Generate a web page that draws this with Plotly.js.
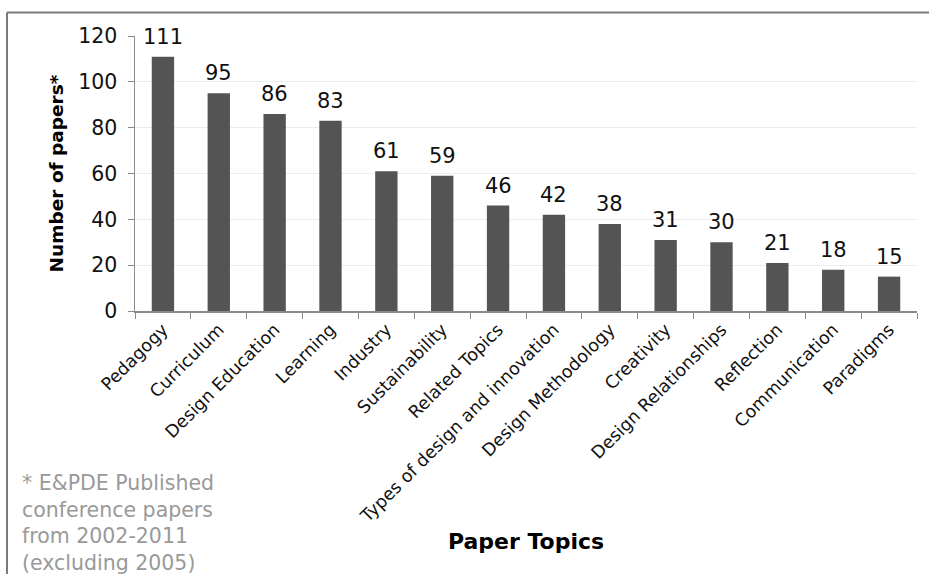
<!DOCTYPE html>
<html>
<head>
<meta charset="utf-8">
<script src="https://cdn.plot.ly/plotly-3.0.1.min.js"></script>
<style>html,body{margin:0;padding:0;background:#fff;}#chart{width:929px;height:574px;}</style>
</head>
<body>
<div id="chart"></div>
<script>
const topics = ["Pedagogy","Curriculum","Design Education","Learning","Industry","Sustainability","Related Topics","Types of design and innovation","Design Methodology","Creativity","Design Relationships","Reflection","Communication","Paradigms"];
const papers = [111,95,86,83,61,59,46,42,38,31,30,21,18,15];
const yTicks = [0,20,40,60,80,100,120];
const yTitle = "Number of papers*";
const xTitle = "Paper Topics";
const footnote = "* E&PDE Published<br>conference papers<br>from 2002-2011<br>(excluding 2005)";

const L = 135, R = 917, T = 36, B = 311, W = 929, H = 574;
const pw = R - L, ph = B - T;
const px = v => (v - L) / pw;
const py = v => (B - v) / ph;

const trace = {
  type: "bar",
  x: topics,
  y: papers,
  marker: {color: "#545454"},
  cliponaxis: false,
  hoverinfo: "x+y"
};

const valueLabels = topics.map((t, i) => ({
  x: t, y: papers[i], xref: "x", yref: "y",
  text: String(papers[i]),
  showarrow: false, yanchor: "bottom", yshift: 6,
  font: {family: "DejaVu Sans", size: 21, color: "#111"}
}));

const layout = {
  width: W, height: H,
  margin: {l: L, r: W - R, t: T, b: H - B},
  paper_bgcolor: "#fff",
  plot_bgcolor: "#fff",
  showlegend: false,
  bargap: 0.6,
  font: {family: "DejaVu Sans", color: "#111"},
  xaxis: {
    type: "category",
    tickangle: -45,
    tickfont: {family: "DejaVu Sans", size: 17.5, color: "#111"},
    showline: true, linecolor: "#8a8a8a", linewidth: 1.5,
    ticks: "outside", tickson: "boundaries", ticklen: 6, tickcolor: "#8a8a8a",
    showgrid: false,
    title: {text: xTitle, font: {family: "DejaVu Sans", size: 22, color: "#000", weight: "bold"}, standoff: 8},
    automargin: false
  },
  yaxis: {
    range: [0, 120],
    tickvals: yTicks,
    ticktext: yTicks.map(String),
    tickfont: {family: "DejaVu Sans", size: 20.5, color: "#111"},
    ticklabelstandoff: 6,
    showline: true, linecolor: "#8a8a8a", linewidth: 1.5,
    ticks: "outside", ticklen: 6, tickcolor: "#8a8a8a",
    showgrid: true, gridcolor: "#ececec", gridwidth: 1,
    zeroline: false,
    title: {text: yTitle, font: {family: "DejaVu Sans", size: 18.5, color: "#000", weight: "bold"}, standoff: 10},
    automargin: false
  },
  annotations: valueLabels.concat([
    {text: footnote, xref: "paper", yref: "paper", x: px(20), y: py(469), xanchor: "left", yanchor: "top", align: "left", showarrow: false, font: {family: "DejaVu Sans", size: 20.5, color: "#999"}}
  ]),
  shapes: [
    {type: "line", xref: "paper", yref: "paper", x0: px(7), x1: px(940), y0: py(12.5), y1: py(12.5), line: {color: "#7a7a7a", width: 2}},
    {type: "line", xref: "paper", yref: "paper", x0: px(7), x1: px(7), y0: py(12.5), y1: py(580), line: {color: "#7a7a7a", width: 2}}
  ]
};

Plotly.newPlot("chart", [trace], layout, {displayModeBar: false, staticPlot: true});
</script>
</body>
</html>
